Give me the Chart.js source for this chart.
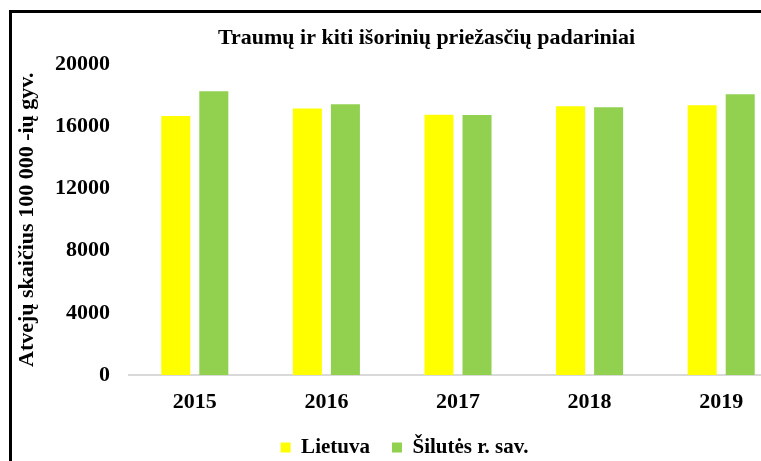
<!DOCTYPE html>
<html lang="lt">
<head>
<meta charset="utf-8">
<title>Traumų ir kiti išorinių priežasčių padariniai</title>
<script src="https://cdn.jsdelivr.net/npm/chart.js@4/dist/chart.umd.min.js"></script>
<style>
    body { margin: 0; background: #fff; overflow: hidden; }
    #frame {
        position: absolute;
        left: 9px;
        top: 10px;
        width: 830px;
        height: 470px;
        border: 3px solid #000;
        background: #fff;
    }
    #injuryChart { display: block; }
</style>
</head>
<body>
<div id="frame">
    <canvas id="injuryChart" width="830" height="470"></canvas>
</div>
<script>
const years = ['2015', '2016', '2017', '2018', '2019'];
const lietuva = [16670, 17160, 16750, 17310, 17370];
const silute = [18270, 17440, 16740, 17240, 18080];
const yTicks = [0, 4000, 8000, 12000, 16000, 20000];

const ctx = document.getElementById('injuryChart').getContext('2d');

Chart.defaults.font.family = "'Liberation Serif', 'Times New Roman', serif";
Chart.defaults.font.weight = 'bold';
Chart.defaults.font.size = 22;
Chart.defaults.color = '#000';

// title and legend sit a little off the canvas centre
const nudgeBlocks = {
    id: 'nudgeBlocks',
    afterLayout(chart) {
        chart.titleBlock.left += 27;
        chart.titleBlock.right += 27;
        chart.legend.left += 5;
        chart.legend.right += 5;
    }
};

const myChart = new Chart(ctx, {
    type: 'bar',
    data: {
        labels: years,
        datasets: [{
            label: 'Lietuva',
            data: lietuva,
            backgroundColor: '#FFFF00'
        }, {
            label: 'Šilutės r. sav.',
            data: silute,
            backgroundColor: '#92D050'
        }]
    },
    options: {
        responsive: false,
        animation: false,
        categoryPercentage: 0.578,
        barPercentage: 0.763,
        layout: { padding: { left: 0, right: 55, top: 0, bottom: 15 } },
        plugins: {
            tooltip: { enabled: false },
            title: {
                display: true,
                text: 'Traumų ir kiti išorinių priežasčių padariniai',
                font: { size: 22, weight: 'bold' },
                color: '#000',
                padding: { top: 12, bottom: 13 }
            },
            legend: {
                position: 'bottom',
                labels: {
                    boxWidth: 10,
                    boxHeight: 10,
                    padding: 22,
                    color: '#000',
                    font: { size: 21, weight: 'bold' }
                }
            }
        },
        scales: {
            x: {
                afterFit: (scale) => { scale.height = 40; },
                grid: { display: false, drawTicks: false },
                border: { display: true, color: '#d9d9d9', width: 2 },
                ticks: { padding: 14 }
            },
            y: {
                min: 0,
                max: 20000,
                afterFit: (scale) => { scale.width = 117; },
                afterBuildTicks: (scale) => {
                    scale.ticks = yTicks.map(v => ({ value: v }));
                },
                grid: { display: false, drawTicks: false },
                border: { display: false },
                ticks: {
                    padding: 19,
                    callback: (value) => String(value)
                },
                title: {
                    display: true,
                    text: 'Atvejų skaičius 100 000 -ių gyv.',
                    color: '#000',
                    padding: { top: 2, bottom: 0 }
                }
            }
        }
    },
    plugins: [nudgeBlocks]
});
</script>
</body>
</html>
